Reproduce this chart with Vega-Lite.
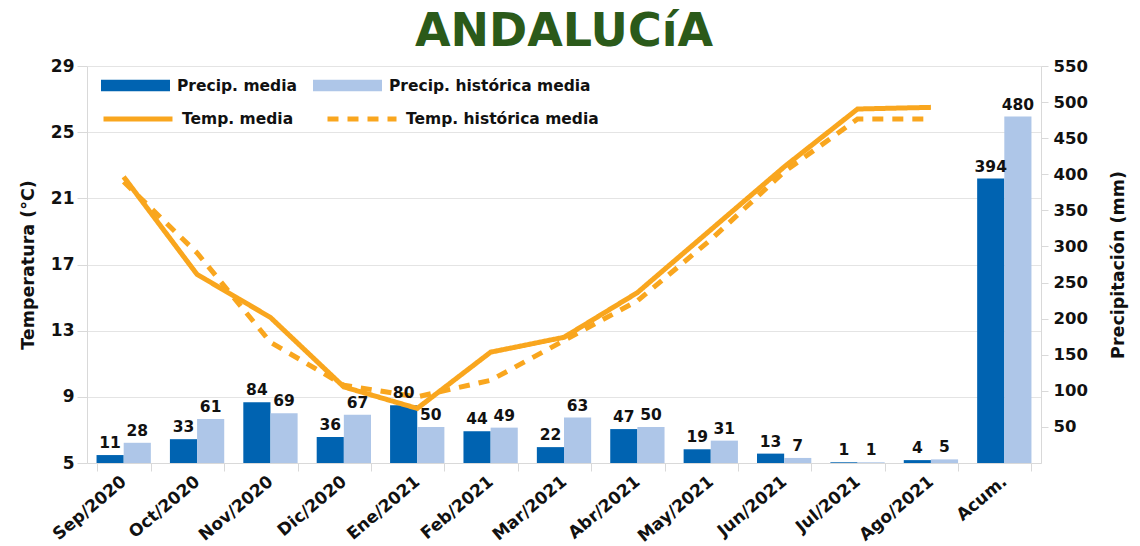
{
  "$schema": "https://vega.github.io/schema/vega-lite/v6.json",
  "autosize": {"type": "none"},
  "width": 954,
  "height": 397,
  "padding": {"left": 87, "top": 66, "right": 99, "bottom": 83},
  "background": "white",
  "title": {
    "text": "ANDALUCíA",
    "font": "DejaVu Sans",
    "fontSize": 46,
    "fontWeight": "bold",
    "color": "#2b5a1a",
    "anchor": "middle",
    "frame": "group",
    "baseline": "alphabetic",
    "offset": -41
  },
  "config": {
    "view": {"stroke": null},
    "axis": {
      "labelFont": "DejaVu Sans",
      "titleFont": "DejaVu Sans",
      "labelFontWeight": "bold",
      "titleFontWeight": "bold",
      "labelColor": "#111111",
      "titleColor": "#111111",
      "domainColor": "#d9d9d9",
      "tickColor": "#d9d9d9",
      "gridColor": "#e4e4e4"
    }
  },
  "datasets": {
    "precip": [
      {"cat": "Sep/2020", "serie": "Precip. media", "valor": 11},
      {"cat": "Sep/2020", "serie": "Precip. histórica media", "valor": 28},
      {"cat": "Oct/2020", "serie": "Precip. media", "valor": 33},
      {"cat": "Oct/2020", "serie": "Precip. histórica media", "valor": 61},
      {"cat": "Nov/2020", "serie": "Precip. media", "valor": 84},
      {"cat": "Nov/2020", "serie": "Precip. histórica media", "valor": 69},
      {"cat": "Dic/2020", "serie": "Precip. media", "valor": 36},
      {"cat": "Dic/2020", "serie": "Precip. histórica media", "valor": 67},
      {"cat": "Ene/2021", "serie": "Precip. media", "valor": 80},
      {"cat": "Ene/2021", "serie": "Precip. histórica media", "valor": 50},
      {"cat": "Feb/2021", "serie": "Precip. media", "valor": 44},
      {"cat": "Feb/2021", "serie": "Precip. histórica media", "valor": 49},
      {"cat": "Mar/2021", "serie": "Precip. media", "valor": 22},
      {"cat": "Mar/2021", "serie": "Precip. histórica media", "valor": 63},
      {"cat": "Abr/2021", "serie": "Precip. media", "valor": 47},
      {"cat": "Abr/2021", "serie": "Precip. histórica media", "valor": 50},
      {"cat": "May/2021", "serie": "Precip. media", "valor": 19},
      {"cat": "May/2021", "serie": "Precip. histórica media", "valor": 31},
      {"cat": "Jun/2021", "serie": "Precip. media", "valor": 13},
      {"cat": "Jun/2021", "serie": "Precip. histórica media", "valor": 7},
      {"cat": "Jul/2021", "serie": "Precip. media", "valor": 1},
      {"cat": "Jul/2021", "serie": "Precip. histórica media", "valor": 1},
      {"cat": "Ago/2021", "serie": "Precip. media", "valor": 4},
      {"cat": "Ago/2021", "serie": "Precip. histórica media", "valor": 5},
      {"cat": "Acum.", "serie": "Precip. media", "valor": 394},
      {"cat": "Acum.", "serie": "Precip. histórica media", "valor": 480}
    ],
    "temp": [
      {"cat": "Sep/2020", "serie": "Temp. histórica media", "t": 22.0},
      {"cat": "Oct/2020", "serie": "Temp. histórica media", "t": 17.7},
      {"cat": "Nov/2020", "serie": "Temp. histórica media", "t": 12.3},
      {"cat": "Dic/2020", "serie": "Temp. histórica media", "t": 9.7},
      {"cat": "Ene/2021", "serie": "Temp. histórica media", "t": 9.0},
      {"cat": "Feb/2021", "serie": "Temp. histórica media", "t": 10.0},
      {"cat": "Mar/2021", "serie": "Temp. histórica media", "t": 12.4},
      {"cat": "Abr/2021", "serie": "Temp. histórica media", "t": 14.8},
      {"cat": "May/2021", "serie": "Temp. histórica media", "t": 18.5},
      {"cat": "Jun/2021", "serie": "Temp. histórica media", "t": 22.6},
      {"cat": "Jul/2021", "serie": "Temp. histórica media", "t": 25.8},
      {"cat": "Ago/2021", "serie": "Temp. histórica media", "t": 25.8},
      {"cat": "Sep/2020", "serie": "Temp. media", "t": 22.3},
      {"cat": "Oct/2020", "serie": "Temp. media", "t": 16.4},
      {"cat": "Nov/2020", "serie": "Temp. media", "t": 13.8},
      {"cat": "Dic/2020", "serie": "Temp. media", "t": 9.6},
      {"cat": "Ene/2021", "serie": "Temp. media", "t": 8.3},
      {"cat": "Feb/2021", "serie": "Temp. media", "t": 11.7},
      {"cat": "Mar/2021", "serie": "Temp. media", "t": 12.6},
      {"cat": "Abr/2021", "serie": "Temp. media", "t": 15.3},
      {"cat": "May/2021", "serie": "Temp. media", "t": 19.1},
      {"cat": "Jun/2021", "serie": "Temp. media", "t": 22.9},
      {"cat": "Jul/2021", "serie": "Temp. media", "t": 26.4},
      {"cat": "Ago/2021", "serie": "Temp. media", "t": 26.5}
    ]
  },
  "encoding": {
    "x": {
      "field": "cat",
      "type": "nominal",
      "sort": null,
      "scale": {
        "domain": ["Sep/2020", "Oct/2020", "Nov/2020", "Dic/2020", "Ene/2021", "Feb/2021", "Mar/2021", "Abr/2021", "May/2021", "Jun/2021", "Jul/2021", "Ago/2021", "Acum."],
        "paddingInner": 0.26,
        "paddingOuter": 0.13
      },
      "axis": {
        "title": null,
        "labelAngle": -40,
        "labelAlign": "right",
        "labelBaseline": "middle",
        "labelFontSize": 17,
        "labelPadding": 8,
        "labelOverlap": false,
        "tickBand": "extent",
        "tickSize": 8,
        "grid": false
      }
    }
  },
  "layer": [
    {
      "data": {"name": "precip"},
      "mark": {"type": "bar"},
      "encoding": {
        "xOffset": {
          "field": "serie",
          "type": "nominal",
          "sort": null,
          "scale": {"domain": ["Precip. media", "Precip. histórica media"], "paddingInner": 0, "paddingOuter": 0}
        },
        "y": {
          "field": "valor",
          "type": "quantitative",
          "scale": {"domain": [0, 550], "nice": false, "zero": true},
          "axis": {
            "orient": "right",
            "title": "Precipitación (mm)",
            "titleAngle": -90,
            "titleFontSize": 17.5,
            "titlePadding": 40,
            "values": [50, 100, 150, 200, 250, 300, 350, 400, 450, 500, 550],
            "labelFontSize": 16.5,
            "labelPadding": 5,
            "tickSize": 7,
            "grid": false
          }
        },
        "fill": {
          "field": "serie",
          "type": "nominal",
          "sort": null,
          "scale": {"domain": ["Precip. media", "Precip. histórica media"], "range": ["#0063b1", "#aec6e8"]},
          "legend": {
            "orient": "none",
            "legendX": 14,
            "legendY": -15,
            "direction": "horizontal",
            "title": null,
            "symbolType": "M-1,-0.17H1V0.17H-1Z",
            "symbolSize": 4761,
            "symbolStrokeWidth": 0,
            "symbolOpacity": 1,
            "labelFont": "DejaVu Sans",
            "labelFontWeight": "bold",
            "labelFontSize": 15.5,
            "labelColor": "#111111",
            "labelOffset": 7,
            "columnPadding": 16,
            "labelLimit": 400
          }
        }
      }
    },
    {
      "data": {"name": "temp"},
      "mark": {"type": "line", "strokeWidth": 5},
      "encoding": {
        "y": {
          "field": "t",
          "type": "quantitative",
          "scale": {"domain": [5, 29], "nice": false, "zero": false},
          "axis": {
            "orient": "left",
            "title": "Temperatura (°C)",
            "titleFontSize": 17.5,
            "titlePadding": 13,
            "values": [5, 9, 13, 17, 21, 25, 29],
            "labelFontSize": 17,
            "labelPadding": 3,
            "tickSize": 10,
            "grid": true
          }
        },
        "stroke": {
          "field": "serie",
          "type": "nominal",
          "scale": {"domain": ["Temp. media", "Temp. histórica media"], "range": ["#f9a61e", "#f9a61e"]},
          "legend": {
            "orient": "none",
            "legendX": 14,
            "legendY": 16,
            "direction": "horizontal",
            "title": null,
            "symbolType": "stroke",
            "symbolSize": 4761,
            "symbolStrokeWidth": 5,
            "labelFont": "DejaVu Sans",
            "labelFontWeight": "bold",
            "labelFontSize": 15.5,
            "labelColor": "#111111",
            "labelOffset": 7,
            "columnPadding": 23,
            "labelLimit": 400
          }
        },
        "strokeDash": {
          "field": "serie",
          "type": "nominal",
          "scale": {"domain": ["Temp. media", "Temp. histórica media"], "range": [[1, 0], [11, 9]]},
          "legend": {
            "orient": "none",
            "legendX": 14,
            "legendY": 16,
            "direction": "horizontal",
            "title": null,
            "symbolType": "stroke",
            "symbolSize": 4761,
            "symbolStrokeWidth": 5,
            "labelFont": "DejaVu Sans",
            "labelFontWeight": "bold",
            "labelFontSize": 15.5,
            "labelColor": "#111111",
            "labelOffset": 7,
            "columnPadding": 23,
            "labelLimit": 400
          }
        }
      }
    },
    {
      "data": {"name": "precip"},
      "mark": {"type": "text", "baseline": "bottom", "dy": -4, "font": "DejaVu Sans", "fontWeight": "bold", "fontSize": 15.5, "color": "#111111"},
      "encoding": {
        "xOffset": {
          "field": "serie",
          "type": "nominal",
          "sort": null,
          "scale": {"domain": ["Precip. media", "Precip. histórica media"], "paddingInner": 0, "paddingOuter": 0}
        },
        "y": {
          "field": "valor",
          "type": "quantitative",
          "scale": {"domain": [0, 550], "nice": false, "zero": true},
          "axis": null
        },
        "text": {"field": "valor", "type": "quantitative"}
      }
    }
  ],
  "resolve": {"scale": {"y": "independent"}}
}
